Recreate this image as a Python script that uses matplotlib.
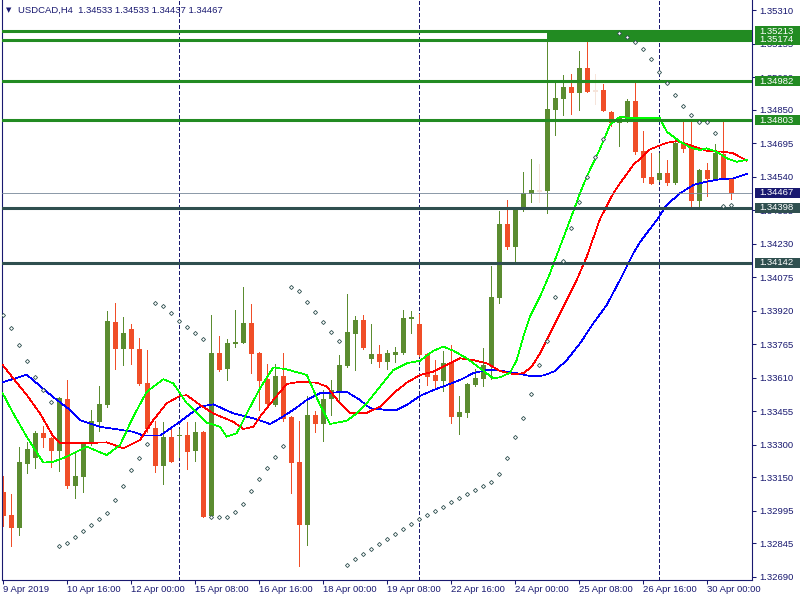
import matplotlib
matplotlib.use("Agg")
import matplotlib.pyplot as plt
from matplotlib.patches import Rectangle
from matplotlib.transforms import blended_transform_factory
import numpy as np

plt.rcParams['font.family'] = ['Liberation Sans', 'DejaVu Sans']

# ---------------- data ----------------
symbol = "USDCAD,H4"

opens = [1.33081, 1.32975, 1.32916, 1.33212, 1.33240, 1.33354, 1.33331, 1.33272, 1.33512, 1.33110,
         1.33152, 1.33302, 1.33407, 1.33482, 1.33868, 1.33744, 1.33836, 1.33743, 1.33584, 1.33377,
         1.33203, 1.33336, 1.33340, 1.33344, 1.33272, 1.33358, 1.32971, 1.33725, 1.33652, 1.33768,
         1.33772, 1.33863, 1.33725, 1.33604, 1.33484, 1.33618, 1.33428, 1.33221, 1.32928, 1.33438,
         1.33396, 1.33512, 1.33549, 1.33664, 1.33813, 1.33877, 1.33697, 1.33720, 1.33683, 1.33715,
         1.33725, 1.33882, 1.33859, 1.33720, 1.33623, 1.33595, 1.33678, 1.33428, 1.33447, 1.33576,
         1.33604, 1.33664, 1.33979, 1.34322, 1.34214, 1.34390, 1.34462, 1.34476, 1.34476, 1.34851,
         1.34902, 1.34956, 1.34930, 1.35044, 1.34937, 1.34942, 1.34840, 1.34791, 1.34795, 1.34892,
         1.34660, 1.34539, 1.34527, 1.34556, 1.34513, 1.34697, 1.34674, 1.34430, 1.34570, 1.34531,
         1.34644, 1.34533]

highs = [1.33155, 1.33072, 1.33291, 1.33313, 1.33364, 1.33387, 1.33336, 1.33521, 1.33600, 1.33271,
         1.33313, 1.33461, 1.33572, 1.33919, 1.33956, 1.33893, 1.33859, 1.33794, 1.33738, 1.33408,
         1.33405, 1.33374, 1.33374, 1.33405, 1.33405, 1.33364, 1.33901, 1.33803, 1.33789, 1.33924,
         1.34030, 1.33953, 1.33729, 1.33674, 1.33674, 1.33725, 1.33433, 1.33410, 1.33526, 1.33456,
         1.33553, 1.33600, 1.33715, 1.33998, 1.33896, 1.33901, 1.33859, 1.33762, 1.33738, 1.33752,
         1.33924, 1.33919, 1.33905, 1.33725, 1.33692, 1.33734, 1.33762, 1.33526, 1.33586, 1.33651,
         1.33748, 1.34127, 1.34382, 1.34433, 1.34400, 1.34562, 1.34623, 1.34599, 1.35213, 1.34980,
         1.35011, 1.35016, 1.35123, 1.35173, 1.35016, 1.34970, 1.34845, 1.34822, 1.34900, 1.34988,
         1.34752, 1.34652, 1.34652, 1.34618, 1.34701, 1.34798, 1.34798, 1.34576, 1.34604, 1.34692,
         1.34798, 1.34533]

lows = [1.32924, 1.32833, 1.32882, 1.33170, 1.33194, 1.33288, 1.33198, 1.33180, 1.33101, 1.33055,
        1.33083, 1.33299, 1.33365, 1.33476, 1.33652, 1.33669, 1.33675, 1.33576, 1.33360, 1.33174,
        1.33120, 1.33220, 1.33245, 1.33189, 1.33226, 1.32965, 1.32965, 1.33643, 1.33601, 1.33754,
        1.33771, 1.33633, 1.33462, 1.33484, 1.33481, 1.33410, 1.33078, 1.32740, 1.32837, 1.33359,
        1.33319, 1.33438, 1.33495, 1.33660, 1.33646, 1.33743, 1.33678, 1.33660, 1.33651, 1.33683,
        1.33720, 1.33817, 1.33711, 1.33576, 1.33567, 1.33550, 1.33401, 1.33351, 1.33428, 1.33572,
        1.33572, 1.33604, 1.33956, 1.34207, 1.34152, 1.34383, 1.34425, 1.34424, 1.34374, 1.34735,
        1.34828, 1.34832, 1.34851, 1.34933, 1.34879, 1.34845, 1.34775, 1.34684, 1.34794, 1.34647,
        1.34518, 1.34507, 1.34521, 1.34504, 1.34508, 1.34656, 1.34402, 1.34402, 1.34453, 1.34530,
        1.34530, 1.34437]

closes = [1.32971, 1.32916, 1.33220, 1.33280, 1.33354, 1.33333, 1.33272, 1.33516, 1.33110, 1.33155,
          1.33308, 1.33410, 1.33489, 1.33873, 1.33744, 1.33817, 1.33742, 1.33581, 1.33374, 1.33203,
          1.33336, 1.33221, 1.33345, 1.33268, 1.33358, 1.32967, 1.33725, 1.33647, 1.33771, 1.33776,
          1.33863, 1.33721, 1.33596, 1.33489, 1.33618, 1.33419, 1.33217, 1.32928, 1.33438, 1.33396,
          1.33512, 1.33553, 1.33669, 1.33822, 1.33877, 1.33748, 1.33720, 1.33683, 1.33725, 1.33729,
          1.33887, 1.33891, 1.33715, 1.33614, 1.33595, 1.33678, 1.33428, 1.33451, 1.33581, 1.33609,
          1.33669, 1.33984, 1.34322, 1.34214, 1.34396, 1.34467, 1.34479, 1.34476, 1.34854, 1.34905,
          1.34956, 1.34930, 1.35044, 1.34934, 1.34937, 1.34846, 1.34791, 1.34812, 1.34892, 1.34656,
          1.34536, 1.34508, 1.34556, 1.34513, 1.34697, 1.34670, 1.34430, 1.34570, 1.34531, 1.34649,
          1.34531, 1.34467]

nan = float('nan')
sar = [1.33901, 1.33839, 1.33762, 1.33686, 1.33615, 1.33553, 1.33496, 1.32833, 1.32846, 1.32874,
       1.32902, 1.32930, 1.32958, 1.32983, 1.33043, 1.33110, 1.33182, 1.33240, 1.33302, 1.33955,
       1.33941, 1.33908, 1.33874, 1.33844, 1.33816, 1.33788, 1.32967, 1.32967, 1.32967, 1.32987,
       1.33024, 1.33084, 1.33140, 1.33192, 1.33242, 1.33293, 1.34029, 1.34010, 1.33959, 1.33913,
       1.33867, 1.33820, 1.33779, 1.32742, 1.32770, 1.32793, 1.32816, 1.32839, 1.32862, 1.32885,
       1.32909, 1.32932, 1.32955, 1.32973, 1.32992, 1.33010, 1.33034, 1.33052, 1.33071, 1.33089,
       1.33108, 1.33127, 1.33165, 1.33237, 1.33334, 1.33422, 1.33533, 1.33668, 1.33779, 1.33982,
       1.34152, 1.34302, 1.34425, 1.34541, 1.34630, 1.34714, nan, 1.35204, 1.35189, 1.35163,
       1.35130, 1.35084, 1.35024, 1.34973, 1.34917, 1.34867, 1.34825, 1.34792, 1.34792, 1.34742,
       1.34406, 1.34410]

# moving averages (bar position, price)
fast_ma_x = [-0.08, 1.25, 2.93, 5.0, 6.25, 7.93, 10.43, 12.93, 14.59, 16.25, 17.93, 20.0, 21.25, 22.93,
             25.43, 27.09, 27.93, 29.18, 30.43, 32.09, 33.75, 35.43, 37.93, 39.59, 40.84, 42.93, 44.18,
             45.43, 47.09, 48.75, 50.43, 52.09, 53.75, 55.0, 56.25, 57.93, 59.59, 61.25, 62.09, 63.34,
             64.18, 65.0, 65.84, 67.09, 68.34, 69.59, 70.84, 72.09, 72.93, 74.59, 75.84, 77.09, 78.34,
             80.43, 82.09, 82.93, 84.59, 85.84, 87.09, 87.93, 89.18, 90.43, 91.68, 92.93]
fast_ma = [1.33538, 1.33445, 1.33337, 1.33217, 1.33221, 1.33245, 1.33291, 1.33252, 1.33299, 1.33430,
           1.33545, 1.33603, 1.33584, 1.33492, 1.33402, 1.33383, 1.33337, 1.33353, 1.33445, 1.33561,
           1.33658, 1.33649, 1.33623, 1.33484, 1.33396, 1.33411, 1.33445, 1.33492, 1.33569, 1.33646,
           1.33677, 1.33689, 1.33735, 1.33754, 1.33735, 1.33700, 1.33654, 1.33607, 1.33612, 1.33633,
           1.33692, 1.33800, 1.33893, 1.33985, 1.34094, 1.34217, 1.34340, 1.34464, 1.34541, 1.34670,
           1.34780, 1.34818, 1.34812, 1.34811, 1.34811, 1.34749, 1.34703, 1.34677, 1.34664, 1.34672,
           1.34656, 1.34626, 1.34610, 1.34618]

mid_ma_x = [-0.08, 1.25, 2.93, 4.59, 6.25, 7.09, 9.59, 12.93, 15.0, 17.09, 18.75, 20.43, 22.09, 22.93,
            24.59, 26.25, 28.75, 30.0, 31.25, 32.09, 33.75, 35.43, 37.09, 39.18, 40.43, 42.09, 43.34,
            45.43, 47.09, 48.75, 50.43, 52.09, 53.75, 55.43, 57.09, 58.75, 60.43, 62.09, 63.75, 65.0,
            66.05, 67.09, 68.34, 70.0, 71.68, 72.93, 74.59, 76.25, 77.09, 78.75, 80.84, 82.93, 84.18,
            85.84, 87.93, 90.0, 91.25, 92.93]
mid_ma = [1.33669, 1.33607, 1.33530, 1.33445, 1.33337, 1.33307, 1.33307, 1.33311, 1.33283, 1.33322,
          1.33414, 1.33492, 1.33526, 1.33529, 1.33484, 1.33445, 1.33406, 1.33373, 1.33383, 1.33430,
          1.33507, 1.33581, 1.33592, 1.33587, 1.33569, 1.33492, 1.33448, 1.33448, 1.33476, 1.33538,
          1.33587, 1.33623, 1.33638, 1.33669, 1.33700, 1.33692, 1.33677, 1.33641, 1.33627, 1.33631,
          1.33661, 1.33723, 1.33816, 1.33939, 1.34063, 1.34170, 1.34345, 1.34464, 1.34510, 1.34595,
          1.34667, 1.34698, 1.34705, 1.34687, 1.34661, 1.34656, 1.34649, 1.34615]

slow_ma_x = [-0.08, 2.93, 6.25, 8.34, 9.59, 12.09, 16.25, 17.5, 19.59, 22.09, 24.59, 26.25, 28.75, 31.25,
             33.34, 34.59, 36.25, 37.93, 39.59, 42.93, 44.59, 45.84, 47.93, 49.18, 50.43, 52.09, 53.75,
             55.43, 57.09, 58.75, 60.43, 62.09, 64.18, 65.84, 67.5, 68.96, 70.43, 72.09, 73.75, 75.43,
             77.09, 78.75, 79.59, 81.68, 82.93, 84.59, 86.25, 87.93, 89.59, 91.25, 92.93]
slow_ma = [1.33589, 1.33624, 1.33520, 1.33461, 1.33414, 1.33383, 1.33360, 1.33342, 1.33342, 1.33407,
           1.33476, 1.33487, 1.33445, 1.33422, 1.33396, 1.33422, 1.33461, 1.33507, 1.33538, 1.33545,
           1.33507, 1.33469, 1.33461, 1.33461, 1.33484, 1.33526, 1.33553, 1.33576, 1.33600, 1.33631,
           1.33646, 1.33643, 1.33631, 1.33618, 1.33620, 1.33641, 1.33692, 1.33769, 1.33862, 1.33947,
           1.34063, 1.34186, 1.34238, 1.34340, 1.34410, 1.34464, 1.34502, 1.34518, 1.34529, 1.34533,
           1.34553]

resistance_levels = [1.35213, 1.35174, 1.34982, 1.34803]
support_levels = [1.34398, 1.34142]
zone_start_bar = 68
week_start_bars = [22, 52, 82]

x_label_bars = [0, 8, 16, 24, 32, 40, 48, 56, 64, 72, 80, 88]
x_labels = ["9 Apr 2019", "10 Apr 16:00", "12 Apr 00:00", "15 Apr 08:00", "16 Apr 16:00",
            "18 Apr 00:00", "19 Apr 08:00", "22 Apr 16:00", "24 Apr 00:00", "25 Apr 08:00",
            "26 Apr 16:00", "30 Apr 00:00"]
y_ticks = [1.35310, 1.35155, 1.35000, 1.34850, 1.34695, 1.34540, 1.34385, 1.34230, 1.34075,
           1.33920, 1.33765, 1.33610, 1.33455, 1.33300, 1.33150, 1.32995, 1.32845, 1.32690]

# ---------------- style ----------------
BULL = '#5B8C30'
BEAR = '#F04E28'
DOJI = '#F6E4DA'
NAVY = '#191970'
FOREST = '#228B22'
SLATE = '#2F4F4F'
BIDC = '#778899'
FS = 6.8

W, H = 800, 600
fig = plt.figure(figsize=(8, 6), dpi=100)
ax = fig.add_axes([2 / W, 20 / H, 750 / W, 580 / H])
x_lo, x_hi = -0.1625, 93.5875
y_lo, y_hi = 1.326738, 1.353586
ax.set_xlim(x_lo, x_hi)
ax.set_ylim(y_lo, y_hi)
px = (y_hi - y_lo) / 580.0

o = np.array(opens); h = np.array(highs); l = np.array(lows); c = np.array(closes)
idx = np.arange(len(o))
up = c > o
dn = c < o
fl = c == o
bw = 0.70

# week separators
for b in week_start_bars:
    ax.axvline(b, color=NAVY, lw=0.6, ls=(0, (4, 3)), zorder=1, antialiased=False)

# candles
for mask, col in ((up, BULL), (dn, BEAR), (fl, DOJI)):
    ax.vlines(idx[mask], l[mask], h[mask], color=col, lw=0.6, zorder=2, antialiased=False)
for mask, col in ((up, BULL), (dn, BEAR)):
    ax.bar(idx[mask], np.abs(c - o)[mask], bottom=np.minimum(o, c)[mask], width=bw,
           color=col, zorder=2.1, antialiased=False, linewidth=0)
ax.hlines(c[fl], idx[fl] - bw / 2, idx[fl] + bw / 2, color=DOJI, lw=1.4, zorder=2.1, antialiased=False)

# moving averages
ax.plot(slow_ma_x, slow_ma, color='#0000FF', lw=0.5, zorder=3, antialiased=False)
ax.plot(mid_ma_x, mid_ma, color='#FF0000', lw=0.5, zorder=3, antialiased=False)
ax.plot(fast_ma_x, fast_ma, color='#00FF00', lw=0.5, zorder=3, antialiased=False)

# horizontal levels
ax.add_patch(Rectangle((zone_start_bar, resistance_levels[1]), x_hi - zone_start_bar,
                       resistance_levels[0] - resistance_levels[1], color=FOREST, zorder=4, lw=0))
for lev in resistance_levels:
    ax.axhline(lev, color=FOREST, lw=2.2, zorder=4)
for lev in support_levels:
    ax.axhline(lev, color=SLATE, lw=2.2, zorder=4)
bid = closes[-1]
ax.axhline(bid, color=BIDC, lw=0.6, zorder=4)

# parabolic SAR
ax.plot(idx, sar, ls='none', marker='D', ms=2.1, mfc='white', mec=SLATE, mew=0.6, zorder=5)

# axes styling
ax.spines['top'].set_visible(False)
for side in ('left', 'right', 'bottom'):
    ax.spines[side].set_color(NAVY)
    ax.spines[side].set_linewidth(0.8)
ax.yaxis.tick_right()
ax.set_yticks(y_ticks)
ax.set_yticklabels([f'{v:.5f}' for v in y_ticks])
ax.tick_params(axis='y', direction='out', length=2.9, width=0.75, colors=NAVY,
               labelsize=FS, pad=2.0, labelcolor=NAVY)
ax.set_xticks(x_label_bars)
ax.tick_params(axis='x', direction='out', length=2.9, width=0.75, colors=NAVY, labelbottom=False)
bx = blended_transform_factory(ax.transData, ax.transAxes)
for b, lab in zip(x_label_bars, x_labels):
    ax.text(b - 0.05, -9.5 / 580, lab, transform=bx, ha='left', va='center',
            fontsize=FS, color=NAVY, clip_on=False)

# right-hand price boxes
by = blended_transform_factory(fig.transFigure, ax.transData)
boxes = [(lev, FOREST) for lev in resistance_levels] + [(bid, NAVY)] + [(lev, SLATE) for lev in support_levels]
for lev, col in boxes:
    fig.add_artist(Rectangle((755 / W, lev - 5 * px), 45 / W, 10 * px, transform=by,
                             facecolor=col, edgecolor='none', zorder=1))
    fig.text(759 / W, lev, f'{lev:.5f}', transform=by, ha='left', va='center',
             fontsize=FS, color='white', zorder=3)

# title
fig.text(6 / W, 1 - 10 / H, '\u25BC', fontsize=5, color=NAVY, ha='left', va='center',
         family=['DejaVu Sans'])
title = f'{symbol}  {opens[-1]:.5f} {highs[-1]:.5f} {lows[-1]:.5f} {closes[-1]:.5f}'
fig.text(18 / W, 1 - 10 / H, title, fontsize=FS, color=NAVY, ha='left', va='center')

fig.savefig('out.png', dpi=100, facecolor='white')
